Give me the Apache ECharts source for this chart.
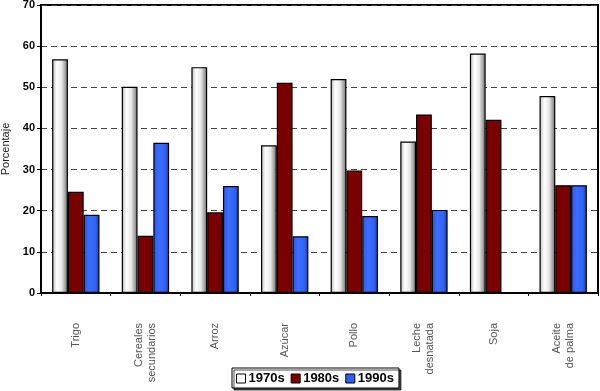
<!DOCTYPE html>
<html><head><meta charset="utf-8">
<script src="https://cdn.jsdelivr.net/npm/echarts@6/dist/echarts.min.js"></script>
<style>html,body{margin:0;padding:0;background:#fff}#c{width:600px;height:391px}</style>
</head><body><div id="c"></div>
<script>
const categories = ['Trigo','Cereales\nsecundarios','Arroz','Azúcar','Pollo','Leche\ndesnatada','Soja','Aceite\nde palma'];
const s1970 = [56.8, 50.1, 54.9, 35.9, 52.0, 36.8, 58.2, 47.9];
const s1980 = [24.6, 13.9, 19.6, 51.1, 29.8, 43.4, 42.1, 26.2];
const s1990 = [19.0, 36.5, 26.0, 13.8, 18.7, 20.2, null, 26.2];
const yTicks = [0,10,20,30,40,50,60,70];

const grad = (stops) => new echarts.graphic.LinearGradient(0,0,1,0, stops.map((c,i)=>({offset:c[0],color:c[1]})));
const white = grad([[0,'#b8b8b8'],[0.3,'#ffffff'],[0.6,'#e8e8e8'],[1,'#6e6e6e']]);
const blue = grad([[0,'#2a55e8'],[0.35,'#3b6dff'],[0.75,'#3062f5'],[1,'#1b3cb0']]);
const red = '#7a0000';

const chart = echarts.init(document.getElementById('c'));
const barStyle = (col) => ({color: col, borderColor:'#000', borderWidth:1.2});
chart.setOption({
  animation:false,
  grid:{left:41,right:2,top:5,bottom:98,outerBoundsMode:'none',containLabel:false,show:true,borderColor:'#000',borderWidth:2,backgroundColor:'transparent'},
  legend:{
    left:232, top:368, itemGap:6, itemWidth:9, itemHeight:9, icon:'rect',
    padding:[4,5,3,4], borderColor:'#000', borderWidth:1, backgroundColor:'#fff',
    shadowColor:'rgba(0,0,0,0.7)', shadowOffsetX:2, shadowOffsetY:2, shadowBlur:0,
    textStyle:{fontFamily:'Liberation Sans, Arial',fontWeight:'bold',fontSize:13,color:'#000',padding:[0,0,0,-2]},
    data:[
      {name:'1970s', itemStyle:{color:'#fff',borderColor:'#000',borderWidth:1}},
      {name:'1980s', itemStyle:{color:red,borderColor:'#000',borderWidth:1}},
      {name:'1990s', itemStyle:{color:'#2f5ff5',borderColor:'#000',borderWidth:1}}
    ]
  },
  xAxis:{
    type:'category', data:categories,
    axisLine:{lineStyle:{color:'#000',width:2}},
    axisTick:{show:true,length:3,lineStyle:{color:'#000',width:1}},
    axisLabel:{rotate:90,margin:30,color:'#555',fontSize:11,fontFamily:'Liberation Sans, Arial',lineHeight:13,interval:0,align:'right'}
  },
  yAxis:{
    type:'value', min:0, max:70, interval:10,
    name:'Porcentaje', nameLocation:'middle', nameGap:29,
    nameTextStyle:{fontFamily:'Liberation Sans, Arial',fontSize:11,color:'#222'},
    axisLine:{show:true,lineStyle:{color:'#000',width:2}},
    axisTick:{show:true,length:4,lineStyle:{color:'#000'}},
    axisLabel:{fontFamily:'Liberation Sans, Arial',fontWeight:'bold',fontSize:11,color:'#000',margin:6,
      formatter:(v)=> yTicks.includes(v)? String(v):''},
    splitLine:{show:true,lineStyle:{color:'#444',type:[6,4],width:1.2}}
  },
  series:[
    {name:'1970s',type:'bar',data:s1970,itemStyle:barStyle(white),barGap:'0%',barCategoryGap:'32%'},
    {name:'1980s',type:'bar',data:s1980,itemStyle:barStyle(red)},
    {name:'1990s',type:'bar',data:s1990,itemStyle:barStyle(blue)}
  ]
});
</script></body></html>
